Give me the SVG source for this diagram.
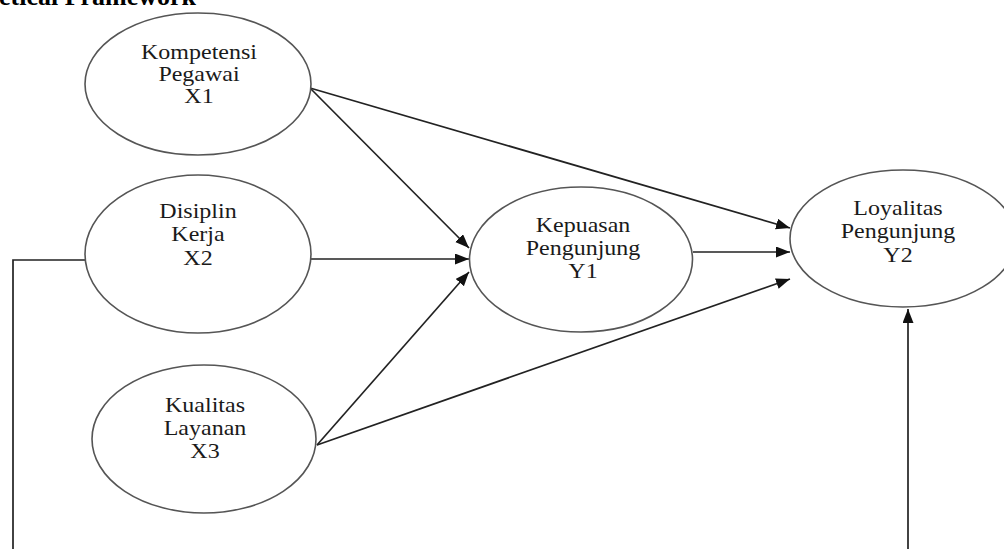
<svg xmlns="http://www.w3.org/2000/svg" width="1004" height="549" viewBox="0 0 1004 549">
<defs>
<marker id="ah" markerUnits="userSpaceOnUse" markerWidth="15" markerHeight="12" refX="14" refY="5.5" orient="auto">
<path d="M0,0 L14,5.5 L0,11 Z" fill="#111"/>
</marker>
<style>
.node ellipse{fill:#fff;stroke:#555;stroke-width:1.6}
.node text{font-family:"Liberation Serif",serif;font-size:20px;fill:#1a1a1a;text-anchor:middle}
.conn line,.conn path{stroke:#222;stroke-width:1.7;fill:none}
.title{font-family:"Liberation Serif",serif;font-size:26px;font-weight:bold;fill:#000}
</style>
</defs>
<rect width="1004" height="549" fill="#fff"/>
<text class="title" x="-1" y="5">etical Framework</text>
<g class="conn">
<line x1="310" y1="88" x2="469" y2="248" marker-end="url(#ah)"/>
<line x1="310" y1="88" x2="790" y2="228" marker-end="url(#ah)"/>
<line x1="310" y1="259" x2="469" y2="259" marker-end="url(#ah)"/>
<line x1="317" y1="445" x2="469" y2="272" marker-end="url(#ah)"/>
<line x1="317" y1="445" x2="790" y2="279" marker-end="url(#ah)"/>
<line x1="693" y1="252" x2="790" y2="252" marker-end="url(#ah)"/>
<path d="M85,260 H13 V549"/>
<line x1="908" y1="549" x2="908" y2="309" marker-end="url(#ah)"/>
</g>
<g id="X1" class="node">
<ellipse cx="198" cy="84" rx="113" ry="71"/>
<g transform="translate(199,0) scale(1.2,1)"><text x="0" y="59">Kompetensi</text><text x="0" y="81">Pegawai</text><text x="0" y="103">X1</text></g>
</g>
<g id="X2" class="node">
<ellipse cx="198" cy="254" rx="113" ry="79"/>
<g transform="translate(198,0) scale(1.2,1)"><text x="0" y="218">Disiplin</text><text x="0" y="241">Kerja</text><text x="0" y="265">X2</text></g>
</g>
<g id="X3" class="node">
<ellipse cx="204" cy="439" rx="112" ry="74"/>
<g transform="translate(205,0) scale(1.2,1)"><text x="0" y="412">Kualitas</text><text x="0" y="435">Layanan</text><text x="0" y="458">X3</text></g>
</g>
<g id="Y1" class="node">
<ellipse cx="581" cy="259.5" rx="111.5" ry="72.5"/>
<g transform="translate(583,0) scale(1.2,1)"><text x="0" y="232">Kepuasan</text><text x="0" y="255">Pengunjung</text><text x="0" y="278">Y1</text></g>
</g>
<g id="Y2" class="node">
<ellipse cx="903" cy="238.5" rx="113" ry="68.5"/>
<g transform="translate(898,0) scale(1.2,1)"><text x="0" y="215">Loyalitas</text><text x="0" y="238">Pengunjung</text><text x="0" y="262">Y2</text></g>
</g>
</svg>
